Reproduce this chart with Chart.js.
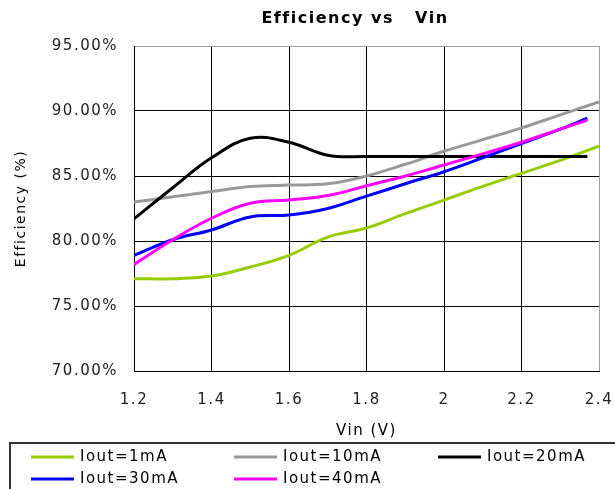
<!DOCTYPE html>
<html>
<head>
<meta charset="utf-8">
<script src="https://cdn.jsdelivr.net/npm/chart.js@4/dist/chart.umd.min.js"></script>
<style>
  html, body { margin: 0; padding: 0; background: #fff; }
</style>
</head>
<body>
<canvas id="effChart" width="615" height="489"></canvas>
<script>
// Vin points (V); the 20/30/40mA curves stop a little short of 2.4
const vinLong = [1.2, 1.3, 1.4, 1.5, 1.6, 1.7, 1.8, 1.9, 2.0, 2.1, 2.2, 2.3, 2.4];
const vinShort = [1.2, 1.3, 1.4, 1.5, 1.6, 1.7, 1.8, 1.9, 2.0, 2.1, 2.2, 2.3, 2.37];

// efficiency (%)
const eff1mA = [77.1, 77.1, 77.3, 78.0, 78.9, 80.3, 81.0, 82.1, 83.15, 84.2, 85.2, 86.2, 87.3];
const eff10mA = [83.0, 83.4, 83.8, 84.2, 84.3, 84.4, 85.0, 85.9, 86.9, 87.8, 88.7, 89.7, 90.7];
const eff20mA = [81.7, 84.1, 86.4, 87.9, 87.6, 86.6, 86.5, 86.5, 86.5, 86.5, 86.5, 86.5, 86.5];
const eff30mA = [78.9, 80.1, 80.85, 81.85, 82.0, 82.5, 83.45, 84.4, 85.33, 86.4, 87.5, 88.6, 89.45];
const eff40mA = [78.2, 80.1, 81.75, 82.9, 83.15, 83.5, 84.25, 85.0, 85.85, 86.7, 87.6, 88.6, 89.3];

const seriesLabels = ['Iout=1mA', 'Iout=10mA', 'Iout=20mA', 'Iout=30mA', 'Iout=40mA'];
const seriesColors = ['#99CC00', '#999999', '#000000', '#0000FF', '#FF00FF'];

const xTicks = [1.2, 1.4, 1.6, 1.8, 2.0, 2.2, 2.4];
const yTicks = [70, 75, 80, 85, 90, 95];

const chartTitle = 'Efficiency vs   Vin';
const FONT = 'DejaVu Sans';

const toPoints = (xs, ys) => ys.map((y, i) => ({ x: xs[i], y: y }));

const seriesData = [
	toPoints(vinLong, eff1mA),
	toPoints(vinLong, eff10mA),
	toPoints(vinShort, eff20mA),
	toPoints(vinShort, eff30mA),
	toPoints(vinShort, eff40mA),
];

const datasets = seriesData.map((pts, i) => ({
	label: seriesLabels[i],
	data: pts,
	borderColor: seriesColors[i],
	backgroundColor: seriesColors[i],
	borderWidth: 3,
	pointRadius: 0,
	tension: 0.4,
	fill: false,
	order: seriesLabels.length - i,
}));

// spacing to get closer to the wide bitmap font of the original
const spacing = {
	id: 'spacing',
	beforeUpdate(chart) { chart.ctx.letterSpacing = '1.5px'; },
	beforeDraw(chart) { chart.ctx.letterSpacing = '1.5px'; },
};

const titleText = {
	id: 'titleText',
	afterDraw(chart) {
		const ctx = chart.ctx;
		ctx.save();
		ctx.font = 'bold 16px ' + FONT;
		ctx.fillStyle = '#000';
		ctx.textAlign = 'center';
		ctx.textBaseline = 'middle';
		ctx.fillText(chartTitle, 355, 19);
		ctx.restore();
	},
};

const boxLegend = {
	id: 'boxLegend',
	afterDraw(chart) {
		const ctx = chart.ctx;
		const cols = [31, 234, 438];
		const rows = [457, 479];
		ctx.save();
		ctx.strokeStyle = '#333';
		ctx.lineWidth = 2;
		ctx.strokeRect(10, 443, 700, 100);
		ctx.font = '15px ' + FONT;
		ctx.textBaseline = 'middle';
		ctx.textAlign = 'left';
		chart.data.datasets.forEach((ds, i) => {
			const x = cols[i % 3];
			const y = rows[Math.floor(i / 3)];
			ctx.strokeStyle = ds.borderColor;
			ctx.lineWidth = 3;
			ctx.beginPath();
			ctx.moveTo(x, y);
			ctx.lineTo(x + 43, y);
			ctx.stroke();
			ctx.fillStyle = '#000';
			ctx.fillText(ds.label, x + 49, y);
		});
		ctx.restore();
	},
};

const edgeGray = '#a0a0a0';

new Chart(document.getElementById('effChart'), {
	type: 'line',
	data: { datasets: datasets },
	options: {
		responsive: false,
		animation: false,
		devicePixelRatio: 1,
		layout: { padding: { top: 46, right: 16, bottom: 0, left: 0 } },
		plugins: {
			legend: { display: false },
			title: { display: false },
			tooltip: { enabled: false },
		},
		scales: {
			x: {
				type: 'linear',
				min: 1.2,
				max: 2.4,
				afterBuildTicks: (s) => { s.ticks = xTicks.map((v) => ({ value: v })); },
				afterFit: (s) => {
					s.height = 118;
					s.paddingLeft = 0;
					s.paddingRight = 0;
				},
				grid: {
					color: (c) => (c.index === xTicks.length - 1 ? edgeGray : '#000'),
					lineWidth: 1,
					drawTicks: false,
				},
				border: { color: '#000', width: 1 },
				ticks: {
					font: { family: FONT, size: 15 },
					color: '#222',
					padding: 20,
					maxRotation: 0,
					autoSkip: false,
					callback: (v) => String(Number(v.toFixed(1))),
				},
				title: {
					display: true,
					text: 'Vin (V)',
					font: { family: FONT, size: 15 },
					color: '#000',
					padding: { top: 0, bottom: 49 },
				},
			},
			y: {
				min: 70,
				max: 95,
				afterBuildTicks: (s) => { s.ticks = yTicks.map((v) => ({ value: v })); },
				afterFit: (s) => {
					s.width = 134;
					s.paddingTop = 0;
					s.paddingBottom = 0;
				},
				grid: {
					color: (c) => (c.index === yTicks.length - 1 ? edgeGray : '#000'),
					lineWidth: 1,
					drawTicks: false,
				},
				border: { color: '#000', width: 1 },
				ticks: {
					font: { family: FONT, size: 15 },
					color: '#222',
					padding: 16,
					callback: (v) => v.toFixed(2) + '%',
				},
				title: {
					display: true,
					text: 'Efficiency (%)',
					font: { family: FONT, size: 14 },
					color: '#000',
					padding: { top: 13, bottom: 0 },
				},
			},
		},
	},
	plugins: [spacing, titleText, boxLegend],
});
</script>
</body>
</html>
